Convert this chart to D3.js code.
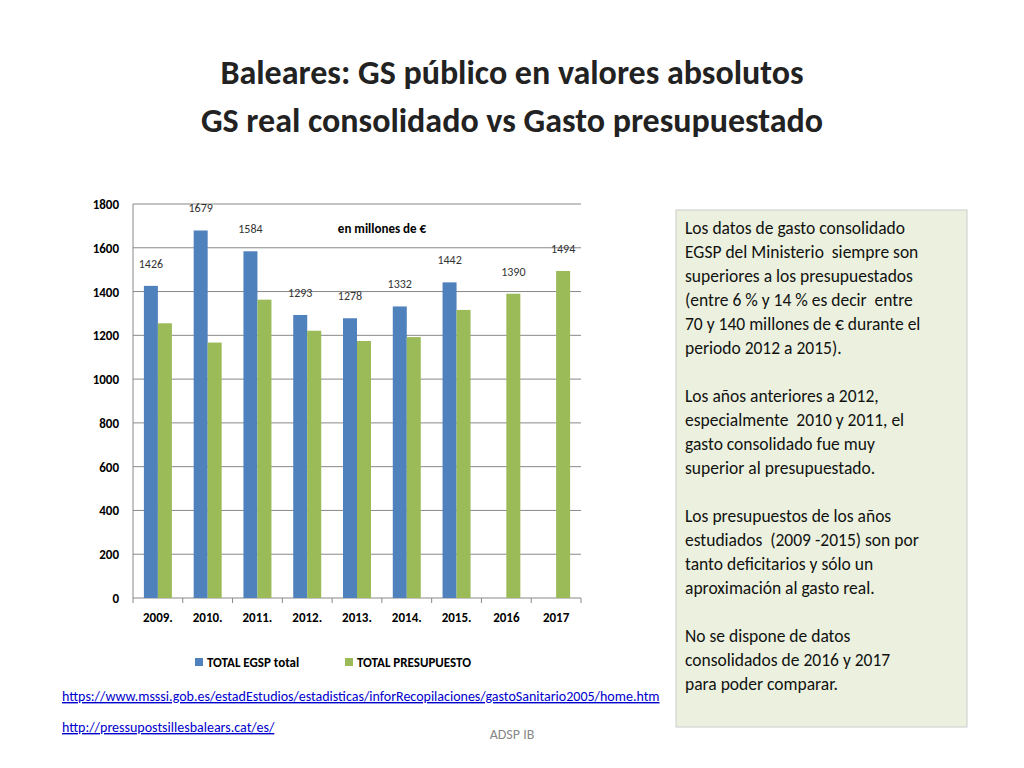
<!DOCTYPE html><html><head><meta charset="utf-8"><script src="https://cdn.jsdelivr.net/npm/d3@7"></script>
<style>body{margin:0;background:#fff;font-family:Calibri,Carlito,"Liberation Sans",sans-serif}</style></head><body><svg id="c" width="1024" height="768"></svg>
<script>
const categories=["2009.","2010.","2011.","2012.","2013.","2014.","2015.","2016","2017"];
const egsp=[1426,1679,1584,1293,1278,1332,1442,null,null];
const presupuesto=[1255,1167,1363,1221,1174,1192,1316,1390,1494];
const yTicks=[0,200,400,600,800,1000,1200,1400,1600,1800];
const seriesNames=["TOTAL EGSP total","TOTAL PRESUPUESTO"];
const colors=["#4f81bd","#9bbb59"];
const textLines=["Los datos de gasto consolidado","EGSP del Ministerio  siempre son","superiores a los presupuestados","(entre 6 % y 14 % es decir  entre","70 y 140 millones de € durante el","periodo 2012 a 2015).","","Los años anteriores a 2012,","especialmente  2010 y 2011, el","gasto consolidado fue muy","superior al presupuestado.","","Los presupuestos de los años","estudiados  (2009 -2015) son por","tanto deficitarios y sólo un","aproximación al gasto real.","","No se dispone de datos","consolidados de 2016 y 2017","para poder comparar."];
const svg=d3.select("#c");
const F="Carlito,Calibri,'Liberation Sans',sans-serif";
svg.append("text").attr("x",512).attr("y",84).attr("text-anchor","middle").attr("font-family",F).attr("font-weight","bold").attr("font-size",34).attr("fill","#222").text("Baleares: GS público en valores absolutos");
svg.append("text").attr("x",512).attr("y",132).attr("text-anchor","middle").attr("font-family",F).attr("font-weight","bold").attr("font-size",34).attr("fill","#222").text("GS real consolidado vs Gasto presupuestado");
const x=d3.scaleBand().domain(categories).range([133,581]);
const y=d3.scaleLinear().domain([0,1800]).range([598,204]);
const g=svg.append("g");
g.selectAll(".gl").data(yTicks).join("line").attr("x1",133).attr("x2",581).attr("y1",d=>y(d)).attr("y2",d=>y(d)).attr("stroke","#888").attr("stroke-width",1);
g.append("line").attr("x1",133).attr("x2",133).attr("y1",204).attr("y2",598).attr("stroke","#888");
g.selectAll(".yt").data(yTicks).join("text").attr("x",119).attr("y",d=>y(d)+5).attr("text-anchor","end").attr("font-family",F).attr("font-weight","bold").attr("font-size",13).text(d=>d);
g.selectAll(".xt").data(categories).join("text").attr("x",d=>x(d)+x.bandwidth()/2).attr("y",622).attr("text-anchor","middle").attr("font-family",F).attr("font-weight","bold").attr("font-size",13).text(d=>d);
g.selectAll(".tk").data(categories.concat(["end"])).join("line").attr("x1",(d,i)=>133+i*x.bandwidth()).attr("x2",(d,i)=>133+i*x.bandwidth()).attr("y1",598).attr("y2",603).attr("stroke","#888");
const bw=14;
[egsp,presupuesto].forEach((s,k)=>{
 categories.forEach((c,i)=>{
  if(s[i]==null)return;
  const cx=x(c)+x.bandwidth()/2+(k===0?-bw:0);
  g.append("rect").attr("x",cx).attr("y",y(s[i])).attr("width",bw).attr("height",598-y(s[i])).attr("fill",colors[k]);
 });
});
categories.forEach((c,i)=>{
 const v=egsp[i]!=null?egsp[i]:presupuesto[i];
 const cx=x(c)+x.bandwidth()/2+(egsp[i]!=null?-bw/2:bw/2);
 g.append("text").attr("x",cx).attr("y",y(v)-18).attr("text-anchor","middle").attr("font-family",F).attr("font-size",12).attr("fill","#333").text(v);
});
svg.append("text").attr("x",382).attr("y",233).attr("text-anchor","middle").attr("font-family",F).attr("font-weight","bold").attr("font-size",13).text("en millones de €");
seriesNames.forEach((n,k)=>{
 const lx=[195,345][k];
 svg.append("rect").attr("x",lx).attr("y",658).attr("width",8).attr("height",8).attr("fill",colors[k]);
 svg.append("text").attr("x",lx+12).attr("y",667).attr("font-family",F).attr("font-weight","bold").attr("font-size",13).text(n);
});
svg.append("rect").attr("x",676).attr("y",210).attr("width",291).attr("height",517).attr("fill","#ebf1de").attr("stroke","#ccc");
textLines.forEach((t,i)=>svg.append("text").attr("x",685).attr("y",234+i*24).attr("font-family",F).attr("font-size",17.5).attr("fill","#111").attr("xml:space","preserve").text(t));
svg.append("text").attr("x",62).attr("y",701).attr("font-family",F).attr("font-size",14).attr("fill","#00c").attr("text-decoration","underline").text("https://www.msssi.gob.es/estadEstudios/estadisticas/inforRecopilaciones/gastoSanitario2005/home.htm");
svg.append("text").attr("x",62).attr("y",732).attr("font-family",F).attr("font-size",14).attr("fill","#00c").attr("text-decoration","underline").text("http://pressupostsillesbalears.cat/es/");
svg.append("text").attr("x",512).attr("y",739).attr("text-anchor","middle").attr("font-family",F).attr("font-size",14).attr("fill","#888").text("ADSP IB");
</script></body></html>
